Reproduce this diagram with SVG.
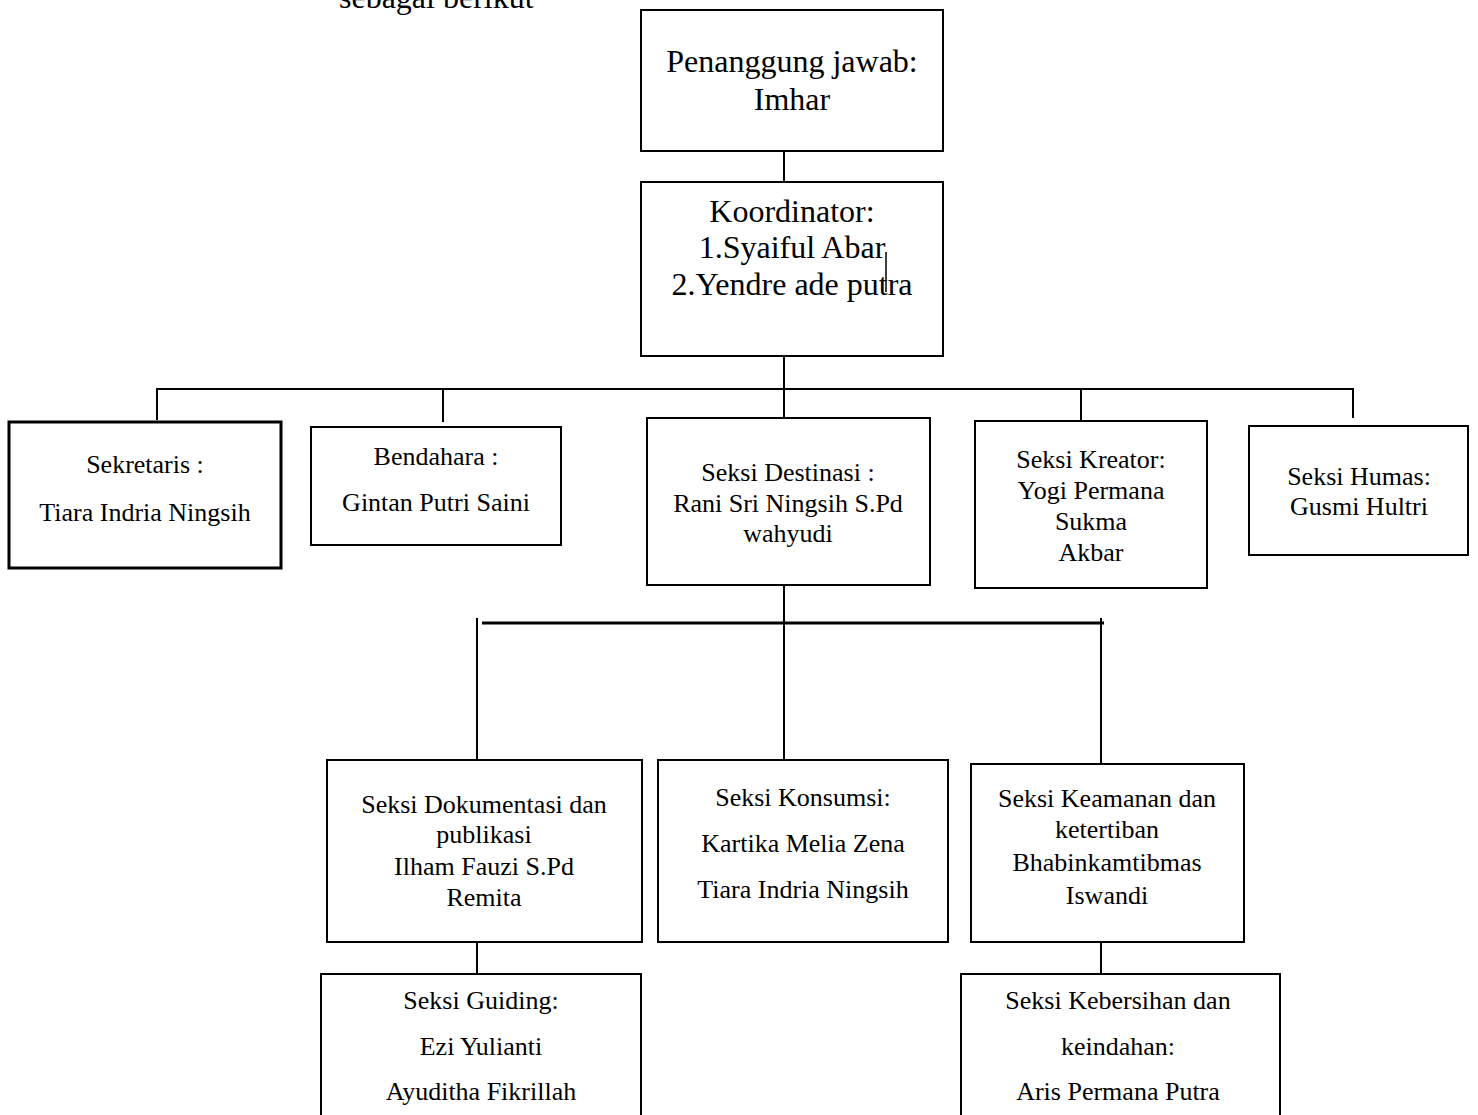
<svg xmlns="http://www.w3.org/2000/svg" width="1478" height="1115" viewBox="0 0 1478 1115" font-family="Liberation Serif, Tinos, serif">
<style>
  text { fill: #000; text-anchor: middle; }
  .big { font-size: 32px; }
  .sm { font-size: 26px; }
  .box { fill: #fff; stroke: #000; stroke-width: 2; }
  .line { stroke: #000; stroke-width: 2; fill: none; }
</style>
<rect width="1478" height="1115" fill="#fff"/>
<text class="big" x="339" y="8" font-family="Liberation Serif" style="text-anchor:start">sebagai berikut</text>

<g id="connectors">
  <line class="line" x1="784" y1="151" x2="784" y2="182"/>
  <line class="line" x1="784" y1="356" x2="784" y2="418"/>
  <polyline class="line" points="157,420 157,389 1353,389 1353,418"/>
  <line class="line" x1="443" y1="389" x2="443" y2="422"/>
  <line class="line" x1="1081" y1="389" x2="1081" y2="421"/>
  <line class="line" x1="784" y1="585" x2="784" y2="760"/>
  <line class="line" x1="482" y1="623" x2="1104" y2="623" style="stroke-width:3"/>
  <line class="line" x1="477" y1="618" x2="477" y2="760"/>
  <line class="line" x1="1101" y1="618" x2="1101" y2="764"/>
  <line class="line" x1="477" y1="942" x2="477" y2="974"/>
  <line class="line" x1="1101" y1="942" x2="1101" y2="974"/>
</g>

<g id="penanggung-jawab" font-family="Liberation Serif">
  <rect class="box" x="641" y="10" width="302" height="141"/>
  <text class="big" x="792" y="72">Penanggung jawab:</text>
  <text class="big" x="792" y="110">Imhar</text>
</g>

<g id="koordinator" font-family="Liberation Serif">
  <rect class="box" x="641" y="182" width="302" height="174"/>
  <text class="big" x="792" y="222">Koordinator:</text>
  <text class="big" x="792" y="258">1.Syaiful Abar</text>
  <text class="big" x="792" y="295">2.Yendre ade putra</text>
  <line class="line" x1="886" y1="252" x2="886" y2="292" style="stroke-width:1.5"/>
</g>

<g id="sekretaris" font-family="Liberation Serif">
  <rect class="box" x="9" y="422" width="272" height="146" style="stroke-width:3"/>
  <text class="sm" x="145" y="473">Sekretaris :</text>
  <text class="sm" x="145" y="521">Tiara Indria Ningsih</text>
</g>

<g id="bendahara" font-family="Liberation Serif">
  <rect class="box" x="311" y="427" width="250" height="118"/>
  <text class="sm" x="436" y="465">Bendahara :</text>
  <text class="sm" x="436" y="511">Gintan Putri Saini</text>
</g>

<g id="seksi-destinasi" font-family="Liberation Serif">
  <rect class="box" x="647" y="418" width="283" height="167"/>
  <text class="sm" x="788" y="481">Seksi Destinasi :</text>
  <text class="sm" x="788" y="512">Rani Sri Ningsih S.Pd</text>
  <text class="sm" x="788" y="542">wahyudi</text>
</g>

<g id="seksi-kreator" font-family="Liberation Serif">
  <rect class="box" x="975" y="421" width="232" height="167"/>
  <text class="sm" x="1091" y="468">Seksi Kreator:</text>
  <text class="sm" x="1091" y="499">Yogi Permana</text>
  <text class="sm" x="1091" y="530">Sukma</text>
  <text class="sm" x="1091" y="561">Akbar</text>
</g>

<g id="seksi-humas" font-family="Liberation Serif">
  <rect class="box" x="1249" y="426" width="219" height="129"/>
  <text class="sm" x="1359" y="485">Seksi Humas:</text>
  <text class="sm" x="1359" y="515">Gusmi Hultri</text>
</g>

<g id="seksi-dokumentasi" font-family="Liberation Serif">
  <rect class="box" x="327" y="760" width="315" height="182"/>
  <text class="sm" x="484" y="813">Seksi Dokumentasi dan</text>
  <text class="sm" x="484" y="843">publikasi</text>
  <text class="sm" x="484" y="875">Ilham Fauzi S.Pd</text>
  <text class="sm" x="484" y="906">Remita</text>
</g>

<g id="seksi-konsumsi" font-family="Liberation Serif">
  <rect class="box" x="658" y="760" width="290" height="182"/>
  <text class="sm" x="803" y="806">Seksi Konsumsi:</text>
  <text class="sm" x="803" y="852">Kartika Melia Zena</text>
  <text class="sm" x="803" y="898">Tiara Indria Ningsih</text>
</g>

<g id="seksi-keamanan" font-family="Liberation Serif">
  <rect class="box" x="971" y="764" width="273" height="178"/>
  <text class="sm" x="1107" y="807">Seksi Keamanan dan</text>
  <text class="sm" x="1107" y="838">ketertiban</text>
  <text class="sm" x="1107" y="871">Bhabinkamtibmas</text>
  <text class="sm" x="1107" y="904">Iswandi</text>
</g>

<g id="seksi-guiding" font-family="Liberation Serif">
  <rect class="box" x="321" y="974" width="320" height="160"/>
  <text class="sm" x="481" y="1009">Seksi Guiding:</text>
  <text class="sm" x="481" y="1055">Ezi Yulianti</text>
  <text class="sm" x="481" y="1100">Ayuditha Fikrillah</text>
</g>

<g id="seksi-kebersihan" font-family="Liberation Serif">
  <rect class="box" x="961" y="974" width="319" height="160"/>
  <text class="sm" x="1118" y="1009">Seksi Kebersihan dan</text>
  <text class="sm" x="1118" y="1055">keindahan:</text>
  <text class="sm" x="1118" y="1100">Aris Permana Putra</text>
</g>
</svg>
